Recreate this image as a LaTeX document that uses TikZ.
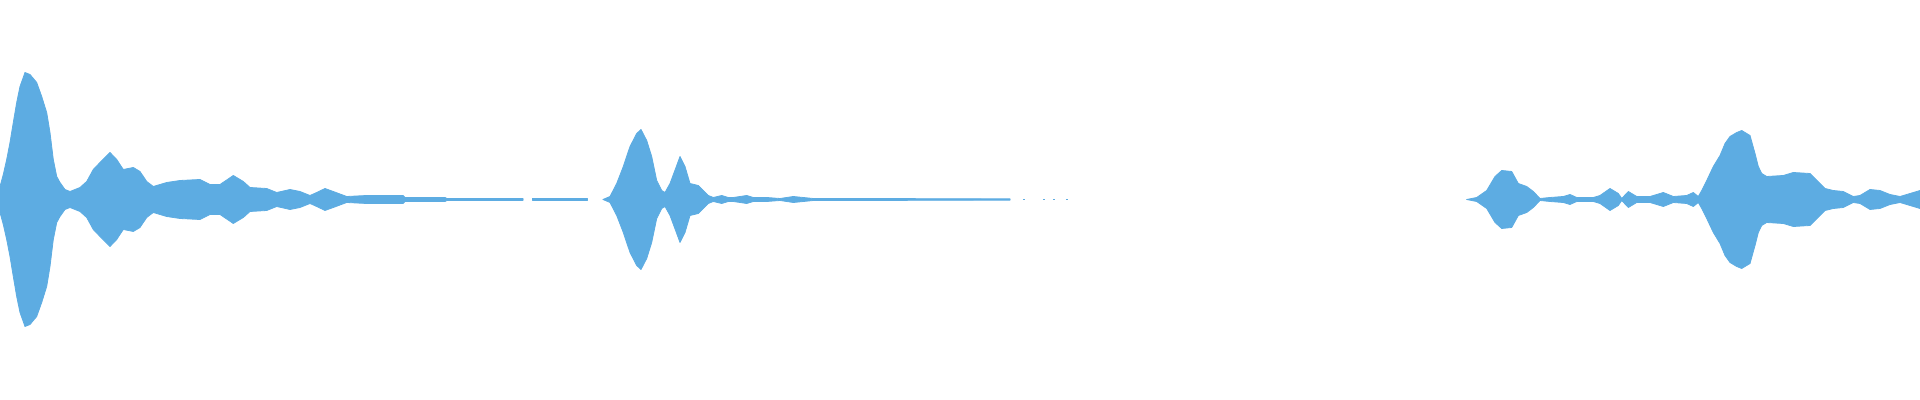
\documentclass[tikz,border=0pt]{standalone}
\definecolor{wave}{HTML}{5DACE2}
\tikzset{wavefill/.style={fill=wave,draw=wave,line width=0.4pt,line join=round}}
\newcommand\envA{(0,0) -- (0,13) -- (3.3,25) -- (6.7,40) -- (10,57) -- (13.3,77) -- (16.7,97) -- (20,113) -- (25,127) -- (30,125) -- (36.7,117) -- (41.7,103) -- (46.7,87) -- (50,67) -- (53.3,40) -- (56.7,23) -- (60,17) -- (65,10) -- (70,8) -- (80,12) -- (86.7,18) -- (93.3,30) -- (100,37) -- (110,47) -- (116.7,40) -- (123.3,30) -- (133.3,32) -- (140,28) -- (146.7,18) -- (153.3,13) -- (166.7,17) -- (180,19) -- (200,20) -- (210,15) -- (220,15) -- (233.3,24) -- (243.3,18) -- (250,12) -- (266.7,11) -- (276.7,7) -- (290,10) -- (300,8) -- (310,4) -- (316.7,7) -- (325,11) -- (333.3,8) -- (346.7,3) -- (366.7,4) -- (403,4) -- (405,2) -- (445,2) -- (447,1) -- (523,1) -- (523,0) -- cycle}
\newcommand\envB{(532,0) -- (532,0.8) -- (587,0.8) -- (587,0) -- cycle}
\newcommand\envC{(603,0) -- (610,3) -- (616.7,16) -- (623.3,33) -- (630,53) -- (636.7,66) -- (641,70) -- (646.7,59) -- (651.7,43) -- (656.7,19) -- (661.7,9) -- (665,7) -- (670,16) -- (676.7,34) -- (680,43) -- (685,33) -- (690,16) -- (698.3,14) -- (703.3,9) -- (708.3,4) -- (713.3,2) -- (721.7,4) -- (728.3,2) -- (733.3,2) -- (746.7,4) -- (753.3,2) -- (766.7,2) -- (780,1) -- (793.3,3) -- (813.3,1) -- (1010,0.7) -- (1010,0) -- cycle}
\newcommand\envD{(1466.7,0) -- (1476.7,2) -- (1486.7,9) -- (1495,23) -- (1501.7,29) -- (1511.7,28) -- (1518.3,16) -- (1526.7,13) -- (1533.3,8) -- (1540,1) -- (1550,2) -- (1563.3,3) -- (1570,5) -- (1576.7,2) -- (1593.3,2) -- (1600,4) -- (1610,11) -- (1618.3,6) -- (1621.7,1) -- (1628.3,8) -- (1636.7,3) -- (1650,3) -- (1663.3,7) -- (1673.3,3) -- (1686.7,4) -- (1693.3,7) -- (1698.3,3) -- (1701.7,9) -- (1706.7,19) -- (1713.3,33) -- (1720,44) -- (1725,56) -- (1730,63) -- (1736.7,67) -- (1741.7,69) -- (1750,64) -- (1755,46) -- (1758.3,33) -- (1761.7,26) -- (1766.7,23) -- (1783.3,24) -- (1793.3,27) -- (1810,26) -- (1820,16) -- (1825,11) -- (1833.3,9) -- (1843.3,8) -- (1853.3,3) -- (1860,4) -- (1870,10) -- (1880,9) -- (1890,5) -- (1900,3) -- (1910,6) -- (1920,9) -- (1920,0) -- cycle}
\begin{document}
\begin{tikzpicture}[x=0.5pt,y=0.5pt]
\useasboundingbox (0,-200.5) rectangle (1920,199.5);
\foreach \s in {1,-1}{
\begin{scope}[yscale=\s]
\path[wavefill] \envA;
\path[wavefill] \envB;
\path[wavefill] \envC;
\path[wavefill] \envD;
\end{scope}}
\foreach \x in {1023,1043,1053,1066} \fill[wave] (\x,-0.7) rectangle (\x+2,0.7);
\end{tikzpicture}
\end{document}
